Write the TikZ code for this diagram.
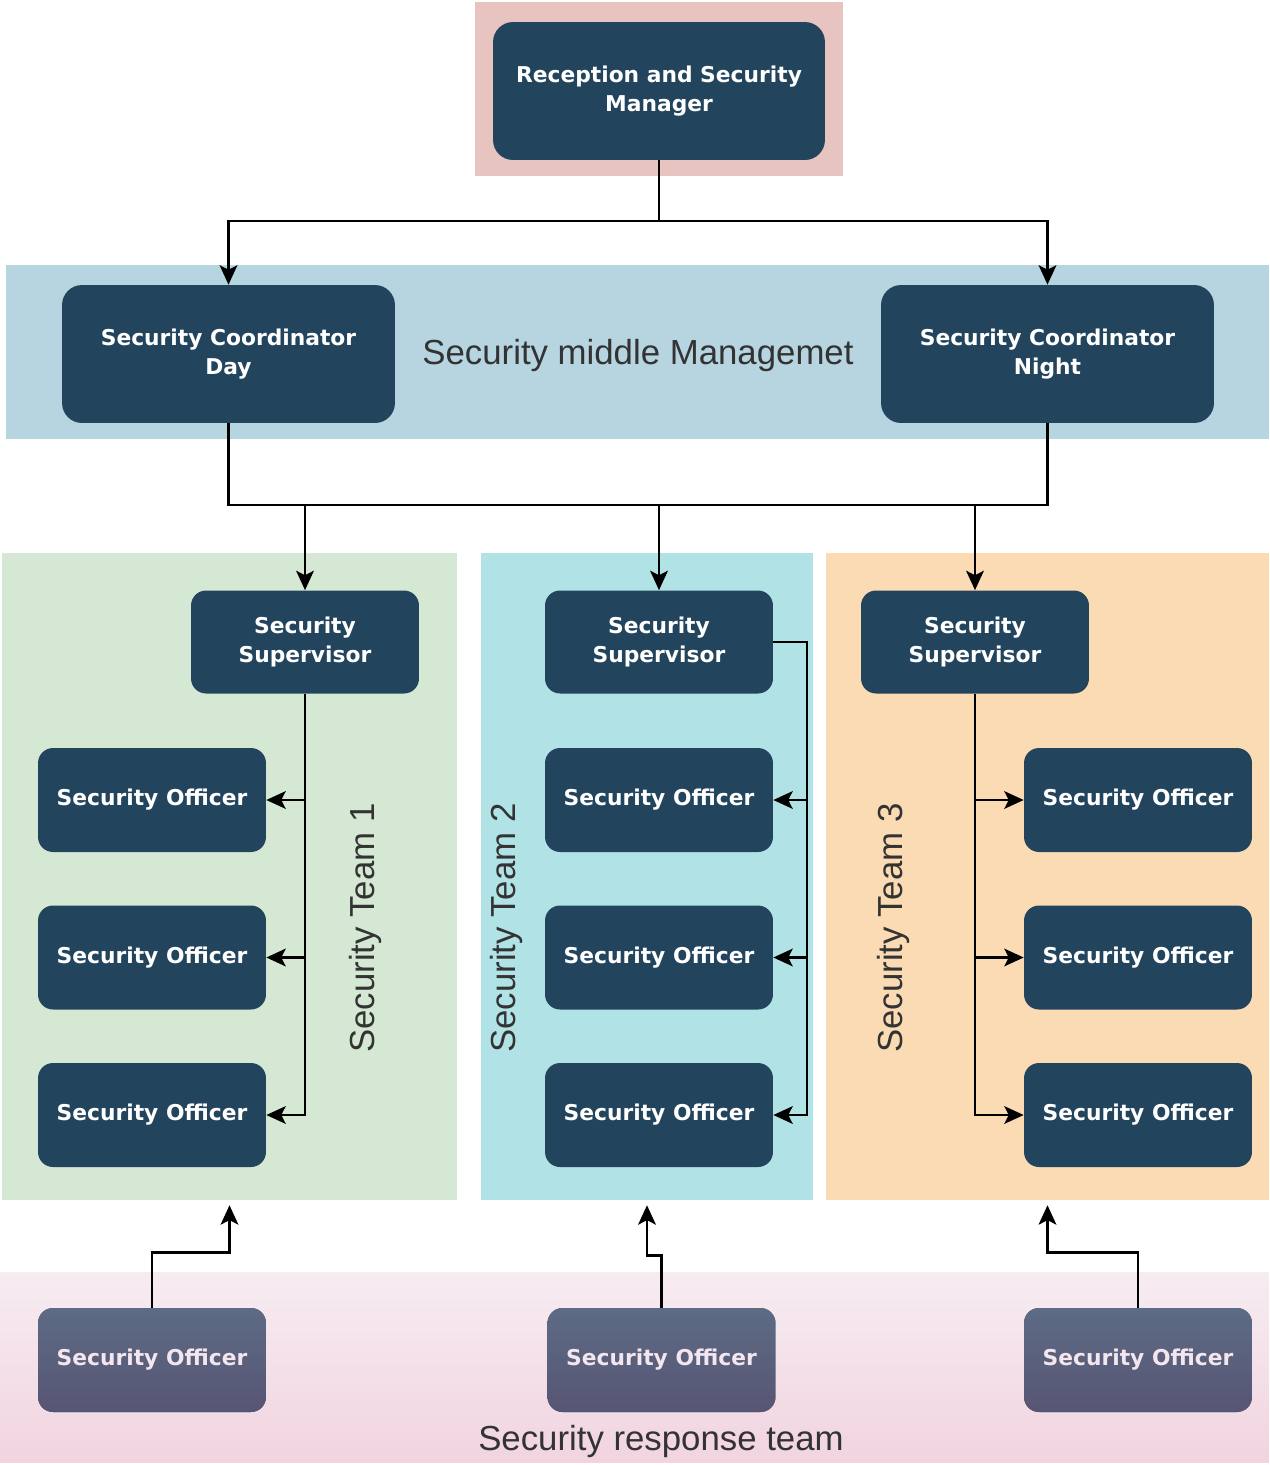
\documentclass[tikz,border=0pt]{standalone}
\usepackage{fontspec}
\setmainfont{Liberation Sans}
\newfontfamily\boxfont{DejaVu Sans}
\usetikzlibrary{arrows.meta}

\definecolor{c23445d}{RGB}{35,68,93}
\definecolor{ce8c4c0}{RGB}{232,196,192}
\definecolor{cb6d5e1}{RGB}{182,213,225}
\definecolor{cd5e8d4}{RGB}{213,232,212}
\definecolor{cb1e3e6}{RGB}{177,227,230}
\definecolor{cfadbb4}{RGB}{250,219,180}
\definecolor{cf7ecf2}{RGB}{247,236,242}
\definecolor{cf1d4e0}{RGB}{241,212,224}
\definecolor{c5d6b85}{RGB}{93,107,133}
\definecolor{c575573}{RGB}{87,85,115}
\definecolor{c333333}{RGB}{51,51,51}
\definecolor{cf3e6ee}{RGB}{243,230,238}

\tikzset{
  area/.style={draw=none, inner sep=0pt, outer sep=0pt},
  darkbox/.style={rounded corners=0.3cm, fill=c23445d, text=white, align=center, inner sep=0pt,
    font=\boxfont\bfseries\fontsize{12.4}{17}\selectfont},
  officer/.style={darkbox, minimum width=4.56cm, minimum height=2.08cm},
  supervisor/.style={darkbox, minimum width=4.56cm, minimum height=2.06cm},
  coordinator/.style={darkbox, rounded corners=0.4cm, minimum width=6.66cm, minimum height=2.76cm},
  responder/.style={officer, top color=c5d6b85, bottom color=c575573, text=cf3e6ee},
  arealabel/.style={text=c333333, font=\fontsize{19.8}{23}\selectfont},
  conn/.style={draw=black, line width=1.6pt},
  arr/.style={conn, -{Stealth[length=11pt, width=10pt, inset=2.5pt]}},
}

\begin{document}
\begin{tikzpicture}[x=0.02cm, y=-0.02cm]
  \useasboundingbox (0,0) rectangle (1269,1465);

  % background areas
  \node[area, fill=ce8c4c0, minimum width=7.36cm, minimum height=3.48cm] (toparea) at (659,89) {};
  \node[area, fill=cb6d5e1, minimum width=25.26cm, minimum height=3.48cm] (midarea) at (637.5,352) {};
  \node[area, fill=cd5e8d4, minimum width=9.1cm, minimum height=12.94cm] (team1) at (229.5,876.5) {};
  \node[area, fill=cb1e3e6, minimum width=6.64cm, minimum height=12.94cm] (team2) at (647,876.5) {};
  \node[area, fill=cfadbb4, minimum width=8.86cm, minimum height=12.94cm] (team3) at (1047.5,876.5) {};
  \node[area, top color=cf7ecf2, bottom color=cf1d4e0, minimum width=25.38cm, minimum height=3.8cm] (resparea) at (634.5,1367) {};



  % management
  \node[coordinator, minimum width=6.64cm] (mgr) at (659,91) {Reception and Security\\Manager};
  \node[coordinator] (cday) at (228.5,354) {Security Coordinator\\Day};
  \node[coordinator] (cnight) at (1047.5,354) {Security Coordinator\\Night};
  \node[arealabel] (midlabel) at (638,355) {Security middle Managemet};



  % supervisors
  \node[supervisor] (sup1) at (305,642) {Security\\Supervisor};
  \node[supervisor] (sup2) at (659,642) {Security\\Supervisor};
  \node[supervisor] (sup3) at (975,642) {Security\\Supervisor};



  % officers
  \foreach \y [count=\i] in {800,957.5,1115} {
    \node[officer] (oa\i) at (152,\y) {Security Officer};
    \node[officer] (ob\i) at (659,\y) {Security Officer};
    \node[officer] (oc\i) at (1138,\y) {Security Officer};
  }
  \node[arealabel, rotate=90] (t1label) at (366,928) {Security Team 1};
  \node[arealabel, rotate=90] (t2label) at (507,928) {Security Team 2};
  \node[arealabel, rotate=90] (t3label) at (893,928) {Security Team 3};



  % response team
  \node[responder] (r1) at (152,1360) {Security Officer};
  \node[responder] (r2) at (661.5,1360) {Security Officer};
  \node[responder] (r3) at (1138,1360) {Security Officer};
  \node[arealabel] (resplabel) at (661,1441) {Security response team};



  % connectors
  \coordinate (split) at (659,221);
  \coordinate (bus) at (659,505);
  \coordinate (rail2) at (807,642);
  \draw[conn] (mgr.south) -- (split);
  \draw[arr] (split) -| (cday.north);
  \draw[arr] (split) -| (cnight.north);
  \draw[conn] (cday.south) |- (bus) -| (cnight.south);
  \draw[arr] (bus) -- (sup2.north);
  \draw[arr] (sup1.north |- bus) -- (sup1.north);
  \draw[arr] (sup3.north |- bus) -- (sup3.north);

  \draw[arr] (sup1.south) |- (oa3.east);
  \draw[arr] (sup1.south |- oa1.east) -- (oa1.east);
  \draw[arr] (sup1.south |- oa2.east) -- (oa2.east);

  \draw[arr] (sup2.east) -- (rail2) |- (ob3.east);
  \draw[arr] (rail2 |- ob1.east) -- (ob1.east);
  \draw[arr] (rail2 |- ob2.east) -- (ob2.east);

  \draw[arr] (sup3.south) |- (oc3.west);
  \draw[arr] (sup3.south |- oc1.west) -- (oc1.west);
  \draw[arr] (sup3.south |- oc2.west) -- (oc2.west);

  \draw[arr, shorten >=3pt] (r1.north) -- ++(0,-55) -| (team1.south);
  \draw[arr, shorten >=3pt] (r2.north) -- ++(0,-52) -| (team2.south);
  \draw[arr, shorten >=3pt] (r3.north) -- ++(0,-55) -| (team3.south);

\end{tikzpicture}
\end{document}
